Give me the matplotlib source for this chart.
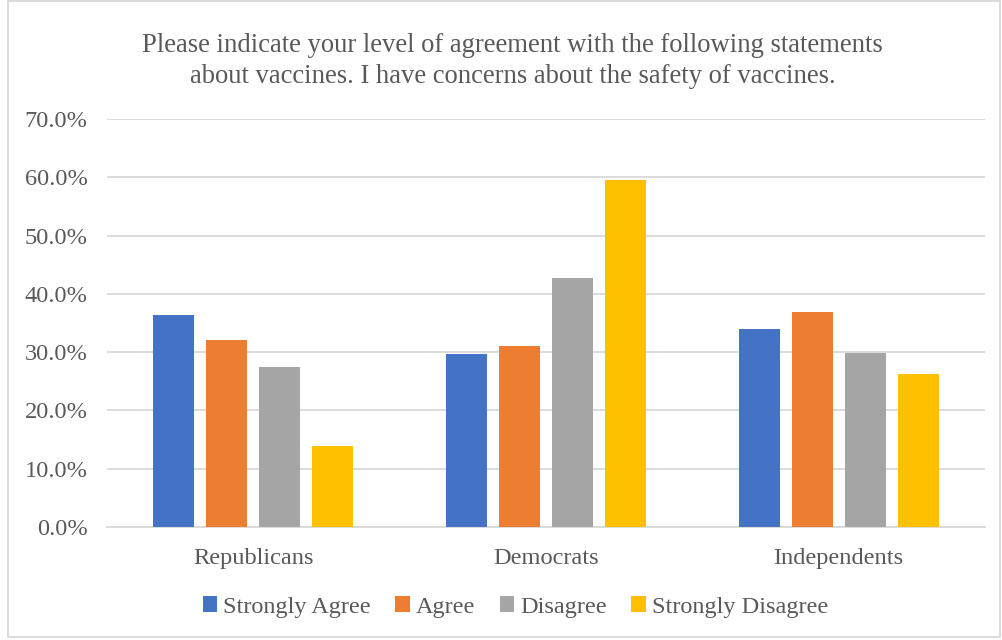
import numpy as np
import matplotlib.pyplot as plt
from matplotlib.patches import Rectangle
from matplotlib.ticker import FuncFormatter

# survey shares (%) by party
groups = ['Republicans', 'Democrats', 'Independents']
responses = ['Strongly Agree', 'Agree', 'Disagree', 'Strongly Disagree']
strongly_agree = [36.4, 29.6, 33.9]
agree = [32.1, 31.1, 36.9]
disagree = [27.4, 42.7, 29.8]
strongly_disagree = [13.9, 59.6, 26.3]
colors = ['#4472C4', '#ED7D31', '#A5A5A5', '#FFC000']

plt.rcParams['font.family'] = ['Liberation Serif', 'DejaVu Serif']
txt = '#595959'

fig = plt.figure(figsize=(10.03, 6.4), dpi=100)
ax = fig.add_axes([107/1003, 1-527/640, 878/1003, 408/640])

x = np.arange(len(groups))
w = 0.14
step = 0.181
series = [strongly_agree, agree, disagree, strongly_disagree]
for i, vals in enumerate(series):
    ax.bar(x + (i-1.5)*step, vals, w, color=colors[i], label=responses[i], zorder=3)

ax.set_xlim(-0.5, 2.5)
ax.set_ylim(0, 70)
ax.set_yticks(np.arange(0, 71, 10))
ax.yaxis.set_major_formatter(FuncFormatter(lambda v, p: f'{v:.1f}%'))
ax.grid(axis='y', color='#D9D9D9', linewidth=1.3, zorder=0)
for s in ['top', 'right', 'left']:
    ax.spines[s].set_visible(False)
ax.spines['bottom'].set_color('#D9D9D9')
ax.spines['bottom'].set_linewidth(1.3)
ax.tick_params(axis='both', length=0, labelsize=17.6, colors=txt)
ax.tick_params(axis='y', pad=14)
ax.tick_params(axis='x', pad=15)
ax.set_xticks(x)
ax.set_xticklabels(groups)

fig.text(0.511, 1-61/640,
         'Please indicate your level of agreement with the following statements\n'
         'about vaccines. I have concerns about the safety of vaccines.',
         ha='center', va='center', fontsize=19.2, color=txt, linespacing=1.3)

fig.legend(loc='center', bbox_to_anchor=(0.514, 1-607/640), ncol=4, frameon=False,
           fontsize=17.5, labelcolor=txt, handlelength=0.6, handleheight=0.6,
           handletextpad=0.25, columnspacing=1.0)

# chart area border
fig.patches.append(Rectangle((8/1003, 3/640), 992/1003, 636/640, transform=fig.transFigure,
                             fill=False, edgecolor='#D9D9D9', linewidth=1.3))

fig.savefig('out.png', dpi=100)
